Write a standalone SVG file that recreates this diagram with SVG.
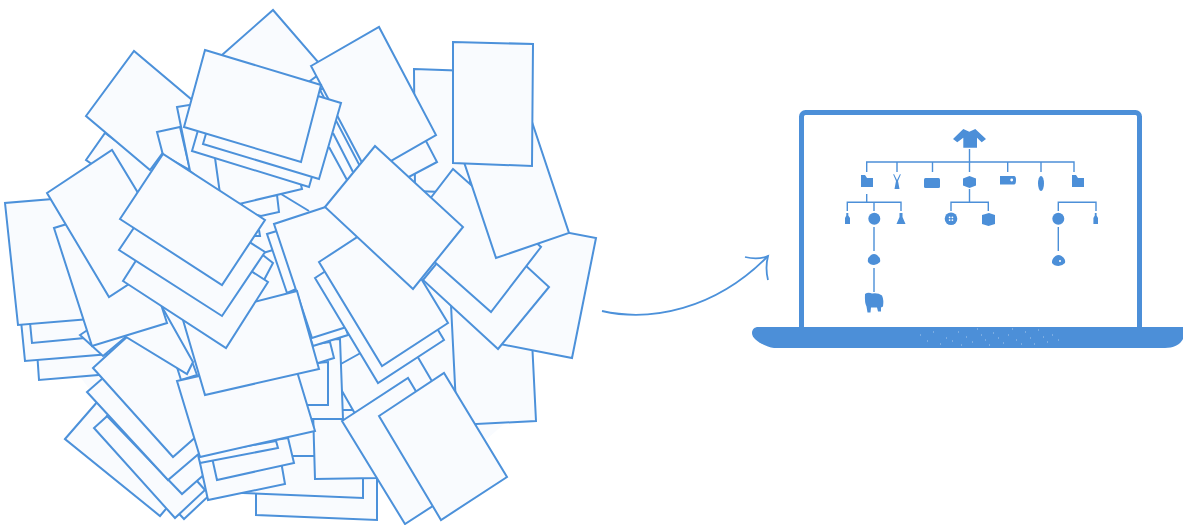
<svg xmlns="http://www.w3.org/2000/svg" width="1183" height="525" viewBox="0 0 1183 525">
<style>
polygon.p{fill:#f9fbfe;stroke:#4c91da;stroke-width:2;stroke-linejoin:miter}
path.e{fill:none;stroke:#4c91da;stroke-width:2}
.i{fill:#4c8fd8}
.l{fill:none;stroke:#4c8fd8;stroke-width:1.4}
.w{fill:#fff}
</style>
<g id="papers">
<polygon points="60,230 130,170 200,80 300,60 420,110 500,170 530,300 520,410 440,480 370,480 200,470 120,430 60,350" fill="#f9fbfe"/>
<polygon class="p" points="30,250 39,380 110,374 100,245"/>
<polygon class="p" points="12,230 25,361 110,354 100,225"/>
<polygon class="p" points="20,220 32,343 95,337 85,215"/>
<polygon class="p" points="5,203 18,325 150,314 137,192"/>
<polygon class="p" points="80,335 103,356 128,335 110,315"/>
<polygon class="p" points="65,439 125,370 220,445 160,516"/>
<polygon class="p" points="110,440 184,519 215,490 140,410"/>
<polygon class="p" points="94,428 175,518 205,490 125,400"/>
<polygon class="p" points="107,416 182,494 215,465 140,385"/>
<polygon class="p" points="87,392 168,480 215,440 135,350"/>
<polygon class="p" points="93,368 128,336 190,370 215,420 173,457"/>
<polygon class="p" points="170,345 193,364 197,375 181,380"/>
<polygon class="p" points="193,362 187,374 90,315 130,250"/>
<polygon class="p" points="54,228 92,346 167,323 129,205"/>
<polygon class="p" points="86,160 105,133 170,180 150,205"/>
<polygon class="p" points="86,116 134,51 198,105 150,170"/>
<polygon class="p" points="47,193 112,150 175,254 109,297"/>
<polygon class="p" points="256,494 256,515 377,520 377,470 256,470"/>
<polygon class="p" points="243,493 363,498 363,456 243,456"/>
<polygon class="p" points="313,410 315,479 377,478 377,410"/>
<polygon class="p" points="330,370 402,330 440,395 370,440"/>
<polygon class="p" points="290,340 340,339 343,419 305,419"/>
<polygon class="p" points="295,365 328,362 328,405 300,405"/>
<polygon class="p" points="310,345 330,342 334,358 315,364"/>
<polygon class="p" points="200,463 208,500 285,484 282,467 280,450 200,450"/>
<polygon class="p" points="213,462 217,480 294,463 288,438 210,450"/>
<polygon class="p" points="200,463 278,448 276,441 198,455"/>
<polygon class="p" points="177,381 292,355 315,431 200,457"/>
<polygon class="p" points="222,55 273,10 325,70 270,110"/>
<polygon class="p" points="414,69 470,71 470,193 415,191"/>
<polygon class="p" points="437,162 375,195 320,90 382,57"/>
<polygon class="p" points="311,66 379,27 436,135 368,174"/>
<path class="e" d="M329,147L347,180M333,133L353,172"/>
<polygon class="p" points="157,132 180,127 190,170 163,155"/>
<polygon class="p" points="177,107 195,104 230,160 225,200 190,171"/>
<path class="e" d="M281,194L309,211"/>
<polygon class="p" points="240,200 277,195 279,212 261,216 245,212"/>
<polygon class="p" points="215,158 290,140 302,189 222,208"/>
<polygon class="p" points="192,151 309,187 331,111 214,75"/>
<polygon class="p" points="203,144 319,179 341,103 225,68"/>
<polygon class="p" points="205,50 321,85 301,162 184,127"/>
<path class="e" d="M263,253L273,250M255,236L260,236L259,230"/>
<polygon class="p" points="250,245 273,263 264,280 240,265"/>
<polygon class="p" points="267,234 287,293 340,270 330,215"/>
<polygon class="p" points="313,346 348,335 330,280 295,291"/>
<polygon class="p" points="274,224 312,338 400,310 362,195"/>
<polygon class="p" points="183,320 297,291 319,369 205,395"/>
<polygon class="p" points="123,281 226,348 268,282 165,215"/>
<polygon class="p" points="119,250 222,316 265,252 162,186"/>
<polygon class="p" points="120,219 163,154 265,220 222,285"/>
<polygon class="p" points="451,305 530,300 536,421 457,425"/>
<polygon class="p" points="596,238 572,358 495,343 502,220"/>
<polygon class="p" points="498,349 549,287 474,218 423,280"/>
<polygon class="p" points="453,169 541,247 491,312 403,234"/>
<polygon class="p" points="455,135 528,110 569,233 496,258"/>
<polygon class="p" points="453,42 533,44 532,166 453,163"/>
<polygon class="p" points="315,278 378,383 444,340 381,235"/>
<polygon class="p" points="319,262 385,219 448,323 382,366"/>
<polygon class="p" points="325,207 375,146 463,227 413,289"/>
<polygon class="p" points="342,421 408,378 470,482 405,524"/>
<polygon class="p" points="379,416 444,373 507,477 441,520"/>
</g>
<g id="laptop">
<rect x="801.5" y="112.5" width="338" height="222" rx="4" fill="#fff" stroke="#4c8fd8" stroke-width="5"/>
<path class="i" d="M758,327H1183V339C1180,345 1173,348 1165,348H774C764,346 752,340 752,333C752,329 755,327 758,327Z"/>
<path d="M920,335h1M927,341h1M933,332h1M940,344h1M946,338h1M952,341h1M958,332h1M961,345h1M966,337h1M972,342h1M977,329h1M981,335h1M985,340h1M989,345h1M993,333h1M998,338h1M1003,343h1M1008,335h1M1012,329h1M1016,340h1M1021,344h1M1025,332h1M1030,338h1M1034,344h1M1038,330h1M1043,337h1M1047,342h1M1052,335h1M1058,340h1" stroke="#a9c9ec" stroke-width="1" fill="none"/>
</g>
<g id="connectors">
<path d="M602,311C650,322 715,310 768,256" fill="none" stroke="#4c91da" stroke-width="1.8"/>
<path d="M745,257C753,259 761,259 768,256C766,264 766,272 768,280" fill="none" stroke="#4c91da" stroke-width="1.8"/>
<path class="l" d="M969.5,149V172M866.7,172V162H1074V172M897,162V172M932.5,162V172M1007.7,162V172M1041,162V172"/>
<path class="l" d="M866.7,194V202.3M847.3,211V202.3H901V211M874,202.3V211"/>
<path class="l" d="M969.5,189V202.3M951,211V202.3H988.3V211"/>
<path class="l" d="M1058.3,211V202.3H1096V211"/>
<path class="l" d="M874,227V251M874,268V292M1058.3,227V251"/>
</g>
<g id="n-shirt"><polygon class="i" points="963.3,129 969.3,131.7 975.3,129 986,139 981.7,142.3 977,137.7 977,147.7 963.3,147.7 963.3,137.7 957.3,142.3 953,139"/></g>
<g id="n-folder1"><path class="i" d="M861,175H865L867,178H873V187H861Z"/></g>
<g id="n-zipper"><path class="i" d="M894,174L897,180L900,174L900.8,174.6L898,181L899.5,189H894.5L896,181L893.2,174.6Z"/></g>
<g id="n-rect"><rect class="i" x="924" y="178" width="16" height="10" rx="1.5"/></g>
<g id="n-box"><polygon class="i" points="969.5,176 976,178.500 976,185.500 969.5,188 963,185.500 963,178.500"/></g>
<g id="n-wallet"><path class="i" d="M1000,176H1014Q1016,176 1016,180Q1016,184.5 1014,184.5H1000Z"/><circle class="w" cx="1011.7" cy="180" r="1.4"/></g>
<g id="n-oblong"><ellipse class="i" cx="1041" cy="183.500" rx="3" ry="7.500"/></g>
<g id="n-folder2"><path class="i" d="M1072,175H1076L1078,178H1084V187H1072Z"/></g>
<g id="n-bottle1"><path class="i" d="M846.3,213H848.3V215.5L850,218V224H845V218L846.3,215.5Z"/></g>
<g id="n-circle1"><circle class="i" cx="874.3" cy="218.7" r="6"/></g>
<g id="n-flask"><path class="i" d="M899.5,213H902.5V217L905.5,224H896.5L899.5,217Z"/></g>
<g id="n-button"><circle class="i" cx="951" cy="218.7" r="6.3"/><circle class="w" cx="949.6" cy="217.3" r=".9"/><circle class="w" cx="952.4" cy="217.3" r=".9"/><circle class="w" cx="949.6" cy="220.1" r=".9"/><circle class="w" cx="952.4" cy="220.1" r=".9"/></g>
<g id="n-box2"><polygon class="i" points="989,213 995,215 995,224 988.5,226 982,224 982,215"/></g>
<g id="n-circle2"><circle class="i" cx="1058.3" cy="218.7" r="6"/></g>
<g id="n-bottle2"><path class="i" d="M1094.8,213H1096.6V215.5L1098,218V224H1093.4V218L1094.8,215.5Z"/></g>
<g id="n-ball1"><path class="i" d="M871,255Q874,253 877,255Q881,258 880,262Q877,265 874,265Q870,265 868,262Q867,258 871,255Z"/></g>
<g id="n-ball2"><path class="i" d="M1055.5,256Q1058.5,254 1061.5,256Q1066,259 1065,263Q1062,266 1058.5,266Q1054,266 1052,263Q1051.5,259 1055.5,256Z"/><circle class="w" cx="1060" cy="261" r="1"/></g>
<g id="n-sheep"><path class="i" d="M865,294Q868,292 872,293.5Q878,292.5 882,295.5Q884,300 883,306.5L881,307.5V311.5H878L877,307.5H871L870.5,312.5H867.5L866.5,306.5Q864.5,303 865,294Z"/></g>
</svg>
